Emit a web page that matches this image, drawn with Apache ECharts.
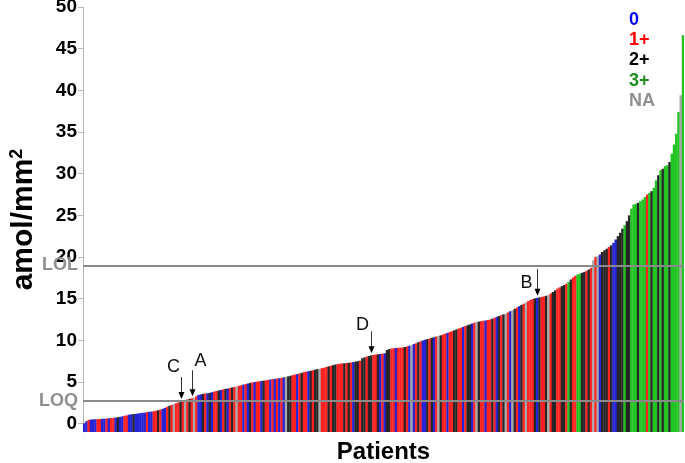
<!DOCTYPE html>
<html>
<head>
<meta charset="utf-8">
<script src="https://cdn.jsdelivr.net/npm/echarts@6/dist/echarts.min.js"></script>
<style>
html, body { margin: 0; padding: 0; background: #fff; }
#main { width: 685px; height: 463px; }
</style>
</head>
<body>
<div id="main"></div>
<script>
// sorted amol/mm2 per patient
var values = [
    0.05, 0.3, 0.45, 0.5, 0.52, 0.53, 0.55, 0.56, 0.58, 0.6,
    0.62, 0.65, 0.68, 0.7, 0.72, 0.78, 0.82, 0.88, 0.95, 1.0,
    1.08, 1.12, 1.15, 1.18, 1.22, 1.26, 1.3, 1.33, 1.38, 1.42,
    1.45, 1.5, 1.55, 1.62, 1.7, 1.78, 1.9, 2.02, 2.15, 2.25,
    2.35, 2.45, 2.55, 2.72, 2.8, 2.85, 2.9, 2.98, 3.05, 3.12,
    3.3, 3.45, 3.52, 3.58, 3.62, 3.66, 3.7, 3.78, 3.85, 3.92,
    3.98, 4.05, 4.12, 4.18, 4.22, 4.28, 4.35, 4.42, 4.48, 4.55,
    4.6, 4.68, 4.75, 4.82, 4.9, 4.95, 5.0, 5.05, 5.08, 5.12,
    5.16, 5.2, 5.25, 5.3, 5.34, 5.38, 5.42, 5.45, 5.5, 5.56,
    5.62, 5.68, 5.75, 5.82, 5.9, 5.95, 6.02, 6.1, 6.18, 6.25,
    6.3, 6.35, 6.42, 6.48, 6.55, 6.6, 6.66, 6.72, 6.8, 6.88,
    6.95, 7.02, 7.1, 7.15, 7.2, 7.22, 7.25, 7.28, 7.3, 7.35,
    7.4, 7.45, 7.5, 7.55, 7.85, 7.95, 8.05, 8.12, 8.2, 8.25,
    8.3, 8.33, 8.36, 8.4, 8.45, 8.85, 8.95, 9.02, 9.05, 9.08,
    9.1, 9.12, 9.15, 9.2, 9.28, 9.35, 9.42, 9.55, 9.65, 9.78,
    9.88, 9.98, 10.08, 10.15, 10.22, 10.3, 10.38, 10.45, 10.52, 10.6,
    10.7, 10.8, 10.9, 11.0, 11.1, 11.2, 11.32, 11.42, 11.52, 11.62,
    11.72, 11.82, 11.92, 12.02, 12.12, 12.2, 12.25, 12.3, 12.35, 12.38,
    12.45, 12.5, 12.6, 12.72, 12.82, 12.92, 13.02, 13.12, 13.22, 13.35,
    13.5, 13.62, 13.78, 13.95, 14.1, 14.25, 14.4, 14.55, 14.7, 14.85,
    14.95, 15.05, 15.1, 15.15, 15.2, 15.28, 15.35, 15.45, 15.62, 15.8,
    16.0, 16.2, 16.35, 16.5, 16.65, 16.8, 17.0, 17.3, 17.55, 17.75,
    17.9, 18.0, 18.1, 18.2, 18.35, 18.5, 18.7, 19.6, 20.0, 20.1,
    20.3, 20.6, 20.8, 21.0, 21.2, 21.4, 21.7, 22.1, 22.5, 22.9,
    23.4, 23.8, 24.3, 25.0, 25.8, 26.3, 26.4, 26.5, 26.7, 26.9,
    27.2, 27.5, 27.7, 27.9, 28.3, 29.2, 29.8, 30.4, 30.6, 30.9,
    31.0, 31.4, 32.4, 33.5, 34.8, 37.4, 39.4, 46.6
];
// HER2 score per patient, index into gradeNames
var grades = [
    0, 0, 1, 0, 0, 0, 1, 1, 0, 0,
    1, 0, 1, 1, 0, 2, 0, 0, 1, 1,
    0, 0, 2, 0, 0, 0, 0, 0, 1, 0,
    0, 1, 1, 2, 1, 0, 0, 1, 2, 1,
    4, 1, 1, 2, 1, 4, 1, 2, 1, 4,
    1, 0, 0, 2, 1, 0, 2, 0, 1, 1,
    2, 0, 1, 2, 0, 1, 2, 1, 4, 1,
    1, 0, 1, 0, 2, 1, 0, 1, 1, 0,
    2, 1, 1, 0, 1, 0, 1, 0, 1, 0,
    4, 2, 2, 1, 1, 0, 1, 2, 1, 1,
    0, 2, 1, 2, 2, 4, 1, 1, 1, 2,
    1, 2, 2, 1, 1, 1, 2, 1, 2, 1,
    0, 2, 2, 1, 2, 2, 1, 2, 2, 1,
    1, 2, 0, 1, 0, 2, 2, 1, 1, 0,
    1, 1, 1, 2, 1, 0, 4, 0, 1, 2,
    1, 0, 0, 2, 1, 2, 0, 1, 4, 2,
    1, 1, 0, 1, 1, 2, 2, 1, 1, 0,
    1, 2, 2, 0, 1, 4, 2, 1, 1, 0,
    1, 1, 2, 1, 0, 2, 1, 2, 4, 1,
    0, 4, 2, 1, 0, 2, 1, 4, 1, 1,
    1, 2, 0, 2, 1, 1, 2, 4, 1, 2,
    2, 1, 1, 2, 2, 1, 3, 2, 1, 1,
    3, 3, 2, 2, 1, 2, 1, 4, 1, 4,
    0, 2, 2, 2, 1, 2, 0, 0, 2, 2,
    2, 3, 2, 2, 3, 3, 3, 2, 3, 3,
    3, 1, 3, 2, 3, 3, 2, 3, 2, 3,
    3, 2, 3, 3, 3, 3, 4, 3
];
var gradeNames = ['0', '1+', '2+', '3+', 'NA'];
var yTicks = [0, 5, 10, 15, 20, 25, 30, 35, 40, 45, 50];
var limitNames = ['LOL', 'LOQ'];
var limitValues = [19, 2.7];
var markLabels = ['C', 'A', 'D', 'B'];
var markIndex = [43, 48, 128, 202];

var Y_MIN = -1;
var barColors = ['#2424d4', '#ff2222', '#262626', '#22c322', '#a9a9a9'];
var legendColors = ['#0000ff', '#ff0000', '#000000', '#1f8c1f', '#8f8f8f'];
var FONT = 'Liberation Sans, Arial, sans-serif';

var myChart = echarts.init(document.getElementById('main'));

var patients = values.map(function (v, i) { return i + 1; });
var barData = values.map(function (v, i) { return [i, v]; });

var legendGraphics = gradeNames.map(function (name, i) {
    return {
        type: 'text',
        x: 629,
        y: 20 + i * 20.2,
        style: {
            text: name,
            fill: legendColors[i],
            font: 'bold 18px ' + FONT,
            verticalAlign: 'middle'
        }
    };
});

var option = {
    animation: false,
    grid: {
        left: 83,
        right: 1,
        top: 7,
        bottom: 31,
        containLabel: false,
        outerBoundsMode: 'none'
    },
    xAxis: {
        type: 'category',
        data: patients,
        name: 'Patients',
        nameLocation: 'middle',
        nameGap: 8,
        nameTextStyle: {
            color: '#000',
            fontSize: 24,
            fontWeight: 'bold',
            fontFamily: FONT
        },
        axisLine: { show: false },
        axisTick: { show: false },
        axisLabel: { show: false },
        splitLine: { show: false }
    },
    yAxis: {
        type: 'value',
        min: Y_MIN,
        max: 50,
        name: 'amol/mm{sup|2}',
        nameLocation: 'middle',
        nameRotate: 90,
        nameGap: 43,
        nameTextStyle: {
            color: '#000',
            fontSize: 30,
            fontWeight: 'bold',
            fontFamily: FONT,
            rich: {
                sup: {
                    fontSize: 18,
                    fontWeight: 'bold',
                    fontFamily: FONT,
                    verticalAlign: 'top',
                    padding: [0, 0, 14, 0]
                }
            }
        },
        axisLine: {
            show: true,
            lineStyle: { color: '#b8b8b8', width: 1 }
        },
        axisTick: {
            show: true,
            length: 5,
            customValues: yTicks,
            lineStyle: { color: '#b8b8b8' }
        },
        axisLabel: {
            customValues: yTicks,
            margin: 6,
            color: '#000',
            fontSize: 19,
            fontWeight: 'bold',
            fontFamily: FONT
        },
        splitLine: { show: false }
    },
    graphic: legendGraphics,
    series: [{
        type: 'custom',
        data: barData,
        encode: { x: 0, y: 1 },
        clip: true,
        renderItem: function (params, api) {
            var i = api.value(0);
            var v = api.value(1);
            var top = api.coord([i, v]);
            var base = api.coord([i, Y_MIN]);
            var w = api.size([1, 0])[0];
            return {
                type: 'rect',
                shape: {
                    x: top[0] - w / 2,
                    y: top[1],
                    width: w + 0.3,
                    height: base[1] - top[1]
                },
                style: { fill: barColors[grades[params.dataIndex]] }
            };
        },
        markLine: {
            silent: true,
            symbol: 'none',
            lineStyle: { color: '#8a8a8a', width: 2, type: 'solid' },
            label: {
                position: 'start',
                distance: 5,
                formatter: '{b}',
                color: '#8f8f8f',
                fontSize: 18,
                fontWeight: 'bold',
                fontFamily: FONT
            },
            data: limitNames.map(function (n, i) {
                return { name: n, yAxis: limitValues[i] };
            })
        }
    }]
};

myChart.setOption(option);

// arrows pointing at individual patients
var arrowLen = [22, 26, 22, 27];
var labelDx = [-8, 8, -9, -11];
var labelDy = [-32, -35, -28, -13];
var annotations = [];
markLabels.forEach(function (lab, k) {
    var idx = markIndex[k];
    var p = myChart.convertToPixel({ gridIndex: 0 }, [idx, values[idx]]);
    var tipX = Math.round(p[0]) + 0.5;
    var tipY = p[1] - 2;
    annotations.push({
        type: 'line',
        shape: { x1: tipX, y1: tipY - arrowLen[k], x2: tipX, y2: tipY - 5 },
        style: { stroke: '#333', lineWidth: 1 },
        z: 20
    });
    annotations.push({
        type: 'polygon',
        shape: { points: [[tipX - 3, tipY - 7], [tipX + 3, tipY - 7], [tipX, tipY]] },
        style: { fill: '#000' },
        z: 20
    });
    annotations.push({
        type: 'text',
        x: tipX + labelDx[k],
        y: tipY + labelDy[k],
        style: {
            text: lab,
            fill: '#111',
            font: '18px ' + FONT,
            align: 'center',
            verticalAlign: 'middle'
        },
        z: 20
    });
});
myChart.setOption({ graphic: legendGraphics.concat(annotations) });

window.addEventListener('resize', function () {
    myChart.resize();
});
</script>
</body>
</html>
